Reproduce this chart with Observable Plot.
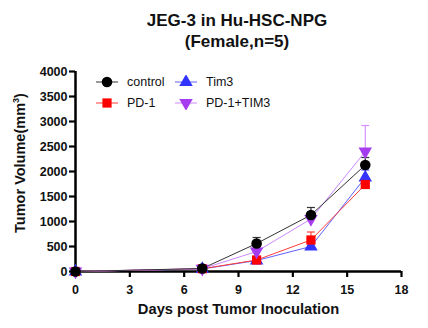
<!DOCTYPE html>
<html><head><meta charset="utf-8">
<script src="https://cdn.jsdelivr.net/npm/d3@7"></script>
<script src="https://cdn.jsdelivr.net/npm/@observablehq/plot@0.6"></script>
<style>
body{margin:0;background:#fff;font-family:"Liberation Sans",Arial,sans-serif;}
#wrap{position:relative;width:428px;height:328px;overflow:hidden;}
#chart{position:absolute;left:0;top:0;}
#title{position:absolute;left:0;top:10px;width:474px;text-align:center;font-weight:bold;font-size:17px;line-height:21px;color:#111;}
.leg{position:absolute;font-size:12.5px;color:#111;display:flex;align-items:center;white-space:nowrap;}
.leg svg{margin-right:9px;}
</style></head>
<body>
<div id="wrap">
  <div id="chart"></div>
  <div id="title">JEG-3 in Hu-HSC-NPG<br>(Female,n=5)</div>
  <div id="legend"></div>
</div>
<script>
// ---- data ----
const days = [0, 7, 10, 13, 16];
const seriesNames = ["control", "PD-1", "Tim3", "PD-1+TIM3"];
const control    = [0, 60, 560, 1130, 2130];
const controlSem = [0, 20, 120, 150, 150];
const pd1        = [0, 55, 230, 630, 1740];
const pd1Sem     = [0, 15, 50, 160, 120];
const tim3       = [0, 50, 220, 500, 1880];
const tim3Sem    = [0, 15, 40, 50, 150];
const combo      = [0, 55, 400, 1050, 2400];
const comboSem   = [0, 15, 80, 100, 520];
const xTicks = [0, 3, 6, 9, 12, 15, 18];
const yTicks = [0, 500, 1000, 1500, 2000, 2500, 3000, 3500, 4000];

// ---- styles ----
const triDown = {
  draw(ctx, size) {
    const s3 = Math.sqrt(3);
    const y = -Math.sqrt(size / (s3 * 3));
    ctx.moveTo(0, -y * 2);
    ctx.lineTo(-s3 * y, y);
    ctx.lineTo(s3 * y, y);
    ctx.closePath();
  }
};
const capSym = {
  draw(ctx, size) {
    const w = Math.sqrt(size);
    ctx.moveTo(-w / 2, 0); ctx.lineTo(w / 2, 0);
  }
};
const style = {
  "control":   {vals: control, sem: controlSem, fill: "#000000", line: "#333333", err: "#333333", symbol: "circle", r: 5.3},
  "PD-1":      {vals: pd1, sem: pd1Sem, fill: "#ff0000", line: "#ff3b3b", err: "#ff4040", symbol: "square", r: 5.2},
  "Tim3":      {vals: tim3, sem: tim3Sem, fill: "#3333ff", line: "#6060ff", err: "#5050ff", symbol: "triangle", r: 5},
  "PD-1+TIM3": {vals: combo, sem: comboSem, fill: "#a63cf0", line: "#cc88ff", err: "#d490ff", symbol: triDown, r: 5}
};
const drawOrder = ["Tim3", "PD-1", "PD-1+TIM3", "control"];

const marks = [];
for (const name of drawOrder) {
  const st = style[name];
  const rows = days.map((d, i) => ({day: d, v: st.vals[i], sem: st.sem[i]}));
  marks.push(Plot.line(rows, {x: "day", y: "v", stroke: st.line, strokeWidth: 1}));
}
for (const name of drawOrder) {
  const st = style[name];
  const rows = days.map((d, i) => ({day: d, v: st.vals[i], top: st.vals[i] + st.sem[i], sem: st.sem[i]})).filter(r => r.sem > 0);
  marks.push(Plot.link(rows, {x1: "day", x2: "day", y1: "v", y2: "top", stroke: st.err, strokeWidth: 1.2}));
  marks.push(Plot.dot(rows, {x: "day", y: "top", symbol: capSym, r: 4.5, stroke: st.err, strokeWidth: 1.2, fill: "none"}));
}
for (const name of drawOrder) {
  const st = style[name];
  const rows = days.map((d, i) => ({day: d, v: st.vals[i]}));
  marks.push(Plot.dot(rows, {x: "day", y: "v", symbol: st.symbol, r: st.r, fill: st.fill, stroke: "none"}));
}

const plot = Plot.plot({
  width: 428, height: 328,
  marginLeft: 75, marginRight: 27, marginTop: 71, marginBottom: 57,
  style: {fontFamily: "'Liberation Sans', Arial, sans-serif", background: "transparent", overflow: "visible"},
  x: {domain: [0, 18]},
  y: {domain: [0, 4000]},
  marks: [
    Plot.axisX({ticks: xTicks, tickSize: 6, tickPadding: 8, strokeWidth: 2.2, fontSize: 12.5, fontWeight: "bold", fill: "#111", stroke: "#000", label: null}),
    Plot.axisY({ticks: yTicks, tickSize: 6, tickPadding: 2, strokeWidth: 2.2, fontSize: 12.5, fontWeight: "bold", fill: "#111", stroke: "#000", label: null, tickFormat: d => String(d)}),
    Plot.ruleX([0], {y1: 0, y2: 4000, stroke: "#000", strokeWidth: 2.5}),
    Plot.ruleY([0], {x1: 0, x2: 18, stroke: "#000", strokeWidth: 2.5}),
    Plot.text(["Days post Tumor Inoculation"], {frameAnchor: "bottom", dy: 42, fontSize: 14.7, fontWeight: "bold", fill: "#111"}),
    ...marks
  ]
});
document.getElementById("chart").appendChild(plot);

// y-axis label (rotated, with superscript)
const svg = d3.select(plot);
svg.append("text")
  .attr("transform", "translate(25,163) rotate(-90)")
  .attr("text-anchor", "middle")
  .attr("font-size", 14.5).attr("font-weight", "bold").attr("fill", "#111")
  .attr("font-family", "'Liberation Sans', Arial, sans-serif")
  .call(t => {
    t.append("tspan").text("Tumor Volume(mm");
    t.append("tspan").attr("font-size", 9).attr("dy", -6).text("3");
    t.append("tspan").attr("dy", 6).text(")");
  });

// legend
const legendPos = {
  "control":   [96, 75],
  "PD-1":      [96, 96],
  "Tim3":      [175, 75],
  "PD-1+TIM3": [175, 96]
};
const legend = document.getElementById("legend");
for (const name of seriesNames) {
  const st = style[name];
  const [lx, ly] = legendPos[name];
  const div = document.createElement("div");
  div.className = "leg";
  div.style.left = lx + "px";
  div.style.top = ly + "px";
  const s = d3.create("svg").attr("width", 22).attr("height", 14);
  s.append("line").attr("x1", 0).attr("x2", 22).attr("y1", 7).attr("y2", 7).attr("stroke", st.line).attr("stroke-width", 1);
  const symType = st.symbol === "circle" ? d3.symbolCircle : st.symbol === "square" ? d3.symbolSquare : st.symbol === "triangle" ? d3.symbolTriangle : triDown;
  s.append("path").attr("transform", "translate(11,7)").attr("d", d3.symbol(symType, st.r * st.r * Math.PI)()).attr("fill", st.fill);
  div.appendChild(s.node());
  const span = document.createElement("span");
  span.textContent = name;
  div.appendChild(span);
  legend.appendChild(div);
}
</script>
</body></html>
